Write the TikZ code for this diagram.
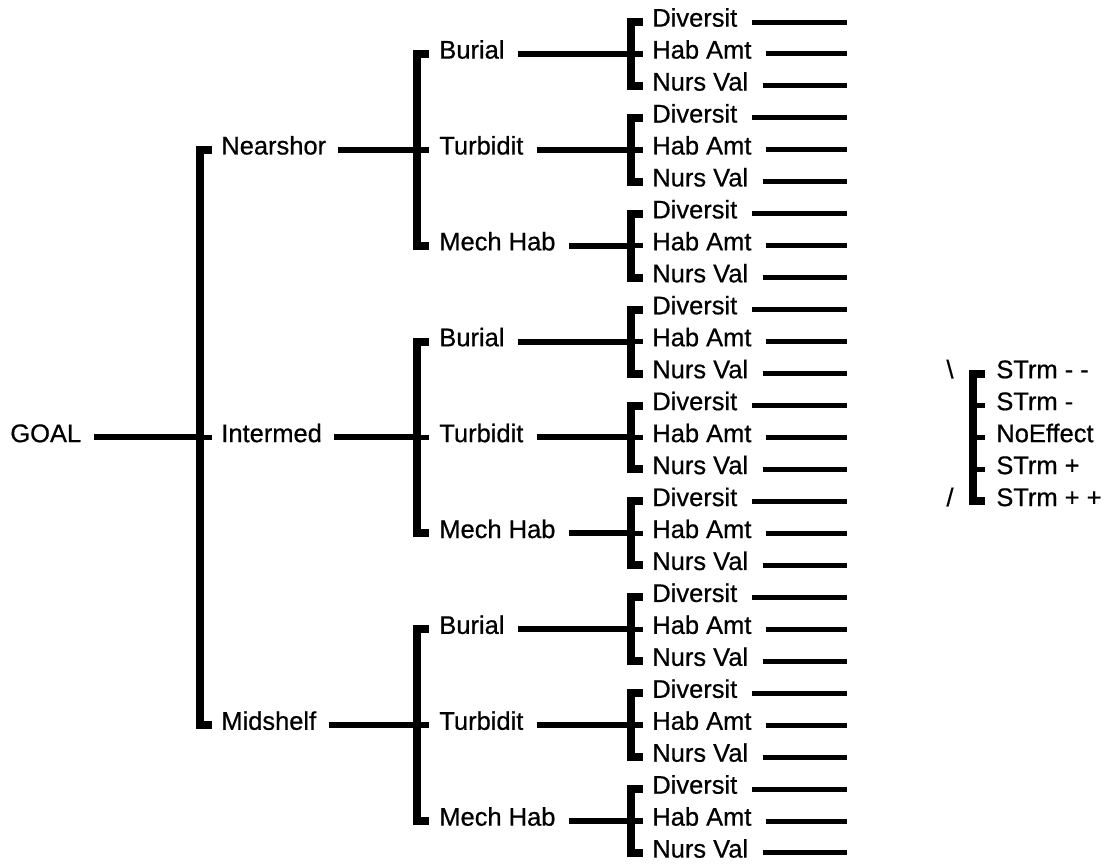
\documentclass[tikz,border=0pt]{standalone}
\usepackage{fontspec}
\setmainfont{Liberation Sans}
\newfontfamily\lblfont{Liberation Sans}[FakeBold=0.6]
\begin{document}
\begin{tikzpicture}[x=0.02cm,y=-0.02cm,
  lbl/.style={anchor=mid west,inner sep=0pt,font=\lblfont\fontsize{14.5}{16}\selectfont},
  conn/.style={line width=0.12cm},
  leafln/.style={line width=0.10cm},
  brk/.style={line width=0.16cm,miter limit=10},
  tickln/.style={line width=0.11cm}]
\useasboundingbox (0,0) rectangle (1112,866);
% root
\pgfmathsetmacro\rg{22+31.96*13}
\node[lbl] (goal) at (10,\rg) {GOAL};
\coordinate (J0) at (200,\rg);
\draw[conn] ([xshift=0.26cm]goal.mid east) -- (J0);
% level-1 bracket
\pgfmathsetmacro\ta{22+31.96*4}
\pgfmathsetmacro\tb{22+31.96*22}
\draw[brk] (212,\ta) -- (200,\ta) -- (200,\tb) -- (212,\tb);
\draw[tickln] (J0) -- ++(12,0);
\foreach \i/\a in {1/Nearshor,2/Intermed,3/Midshelf}{
  \pgfmathsetmacro\ra{22+31.96*(9*(\i-1)+4)}
  \node[lbl] (A\i) at (221,\ra) {\a};
  \coordinate (JA\i) at (417,\ra);
  \draw[conn] ([xshift=0.24cm]A\i.mid east) -- (JA\i);
  % level-2 bracket
  \pgfmathsetmacro\ua{22+31.96*(9*(\i-1)+1)}
  \pgfmathsetmacro\ub{22+31.96*(9*(\i-1)+7)}
  \draw[brk] (429,\ua) -- (417,\ua) -- (417,\ub) -- (429,\ub);
  \draw[tickln] (JA\i) -- ++(12,0);
  \foreach \j/\b in {1/Burial,2/Turbidit,3/Mech Hab}{
    \pgfmathsetmacro\rb{22+31.96*(9*(\i-1)+3*(\j-1)+1)}
    \node[lbl] (B\i\j) at (439,\rb) {\b};
    \coordinate (JB\i\j) at (631,\rb);
    \draw[conn] ([xshift=0.26cm]B\i\j.mid east) -- (JB\i\j);
    % leaf bracket
    \pgfmathsetmacro\va{22+31.96*(9*(\i-1)+3*(\j-1))}
    \pgfmathsetmacro\vb{22+31.96*(9*(\i-1)+3*(\j-1)+2)}
    \draw[brk] (643,\va) -- (631,\va) -- (631,\vb) -- (643,\vb);
    \draw[tickln] (JB\i\j) -- ++(12,0);
    \foreach \k/\c in {1/Diversit,2/Hab Amt,3/Nurs Val}{
      \pgfmathsetmacro\rc{22+31.96*(9*(\i-1)+3*(\j-1)+\k-1)}
      \node[lbl] (C\i\j\k) at (652,\rc) {\c};
      \coordinate (E\i\j\k) at (847,\rc);
      \draw[leafln] ([xshift=0.28cm]C\i\j\k.mid east) -- (E\i\j\k);
    }
  }
}
% legend
\pgfmathsetmacro\la{22+31.96*11}
\pgfmathsetmacro\lb{22+31.96*15}
\node[lbl,anchor=mid] (bs) at (950,\la) {\textbackslash};
\node[lbl,anchor=mid] (sl) at (950,\lb) {/};
\draw[brk] (985,\la) -- (973,\la) -- (973,\lb) -- (985,\lb);
\foreach \n/\t in {11/STrm - -,12/STrm -,13/NoEffect,14/STrm +,15/STrm + +}{
  \pgfmathsetmacro\rl{22+31.96*\n}
  \node[lbl] (S\n) at (996,\rl) {\t};
  \coordinate (K\n) at (973,\rl);
}
\foreach \n in {12,13,14}{
  \draw[tickln] (K\n) -- ++(12,0);
}
\end{tikzpicture}
\end{document}
